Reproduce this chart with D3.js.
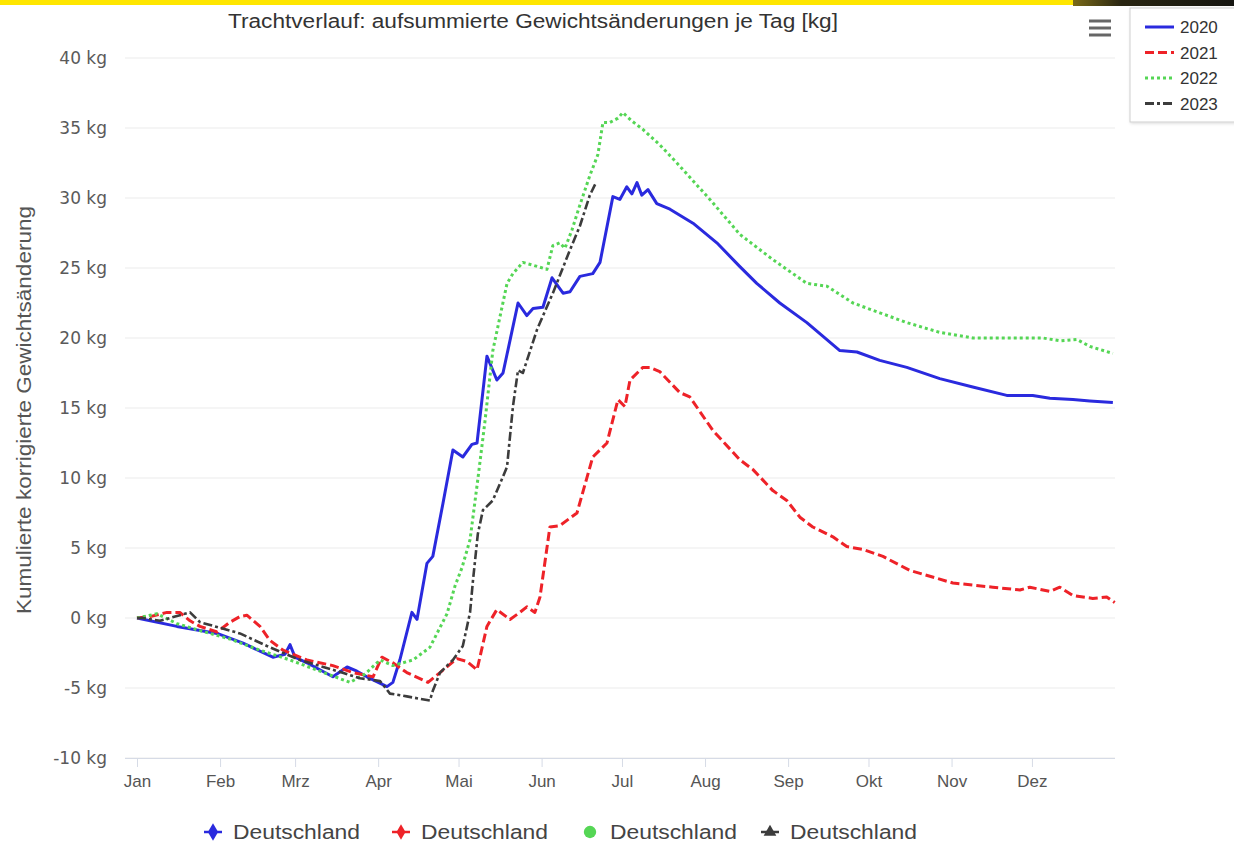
<!DOCTYPE html>
<html>
<head>
<meta charset="utf-8">
<script src="https://cdn.jsdelivr.net/npm/d3@7"></script>
<style>
  html, body { margin: 0; padding: 0; background: #ffffff; }
  svg { display: block; }
  text { font-family: "Liberation Sans", Arial, sans-serif; }
</style>
</head>
<body>
<svg id="chart" width="1234" height="844"></svg>
<script>
// ---------- data ----------
const chartTitle = "Trachtverlauf: aufsummierte Gewichtsänderungen je Tag [kg]";
const yAxisTitle = "Kumulierte korrigierte Gewichtsänderung";
const monthLabels = ["Jan","Feb","Mrz","Apr","Mai","Jun","Jul","Aug","Sep","Okt","Nov","Dez"];
const monthStartDays = [0,31,59,90,120,151,181,212,243,273,304,334];
const yTickValues = [-10,-5,0,5,10,15,20,25,30,35,40];
const seriesYears = ["2020","2021","2022","2023"];
const seriesRegion = ["Deutschland","Deutschland","Deutschland","Deutschland"];

const days2020 = [0,14.9,23.5,29.9,39.6,50.7,55.2,57.1,59,63.4,73.1,78.4,82.1,85.8,93.3,95.5,98.1,102.6,104.5,108.2,110.4,114.2,117.9,121.6,125,126.9,130.6,134.3,136.6,142.2,145.5,147.8,151.5,154.9,159,161.6,165.3,170.1,172.8,177.6,180.2,182.8,184.7,186.6,188.4,190.7,194,198.9,207.5,216.4,225,231.3,239.9,250,262.3,268.7,277.2,287.3,299.6,311.9,324.6,334.3,340.7,349.3,355.6,364.2];
const kg2020 = [0,-0.6,-0.9,-1.1,-1.8,-2.8,-2.6,-1.9,-2.8,-3.2,-4.2,-3.5,-3.8,-4.2,-4.9,-4.6,-3,0.4,-0.1,3.9,4.4,8.2,12,11.5,12.4,12.5,18.7,17,17.5,22.5,21.6,22.1,22.2,24.3,23.2,23.3,24.4,24.6,25.4,30.1,29.9,30.8,30.3,31.1,30.2,30.6,29.6,29.2,28.2,26.8,25.1,23.9,22.5,21.1,19.1,19,18.4,17.9,17.1,16.5,15.9,15.9,15.7,15.6,15.5,15.4];

const days2021 = [0,4.9,11.2,16,19.8,23.5,29.9,34.7,38.4,41,45.9,49.6,54.5,63.4,73.1,80.6,88.1,91.4,95.5,100.7,108.6,113.1,119.4,123.1,126.9,130.6,134.3,139.2,142.9,145.5,148.5,150.4,154.1,157.8,164.2,170.1,175.4,179.5,182.1,184,188.8,191.4,195.1,202.6,206.3,214.9,225,229.9,237.3,242.5,247.4,252.2,259.7,264.9,270.9,278.4,288.4,304.5,319.4,329.5,333.2,340.7,344.4,349.3,356.7,361.9,364.9];
const kg2021 = [0,0.1,0.4,0.4,-0.2,-0.6,-1,-0.3,0.1,0.2,-0.6,-1.6,-2.3,-3,-3.4,-3.9,-4.2,-2.8,-3.2,-3.9,-4.6,-3.9,-2.9,-3.1,-3.7,-0.6,0.6,-0.1,0.4,0.8,0.4,1.5,6.5,6.6,7.5,11.5,12.5,15.6,15.1,17,17.9,17.9,17.6,16.1,15.8,13.4,11.3,10.6,9.1,8.4,7.2,6.5,5.8,5.1,4.9,4.4,3.4,2.5,2.2,2,2.2,1.9,2.2,1.6,1.4,1.5,1.1];

const days2022 = [0,7.5,14.9,23.5,34.7,45.9,57.1,68.3,79.5,85.1,90.7,95.5,103,109.3,115.7,118.7,121.3,124.3,127.2,129.9,132.8,138.1,140.3,144,147.8,153,155.2,157.8,159.7,162.3,165.3,169,172,173.9,176.5,179.5,181.3,184.7,188.8,195.1,201.5,213.8,225,237.3,250,257.5,267.2,277.2,287.3,299.6,311.9,324.6,338.1,344.4,350.7,355.6,364.2];
const kg2022 = [0,0.3,-0.4,-0.9,-1.5,-2.3,-3,-3.8,-4.6,-4,-3,-3.4,-3,-2.1,0.3,2.3,3.6,5.6,9.9,14.1,19.1,23.9,24.6,25.4,25.2,24.9,26.6,26.8,26.4,27.7,29.5,31.6,33.1,35.4,35.4,35.7,36.1,35.5,34.9,33.8,32.5,29.9,27.4,25.6,23.9,23.7,22.5,21.8,21.1,20.4,20,20,20,19.8,19.9,19.4,18.9];

const days2023 = [0,2.2,8.6,16,19.8,23.5,29.1,38.4,48.5,60.8,73.1,83.2,90.7,94.4,100.7,109.3,110.4,113.1,117.9,121.6,124.3,125.4,127.2,129.1,132.8,136.6,138.1,140.3,142.2,144,149.3,155.2,161.6,165.3,169,171.3];
const kg2023 = [0,0,-0.2,0.2,0.4,-0.3,-0.6,-1.1,-2,-3,-3.7,-4.3,-4.5,-5.4,-5.6,-5.9,-5.2,-3.9,-3,-2,0.4,2.7,6,7.7,8.4,10.1,10.8,15.1,17.7,17.5,20.6,23.2,26.3,28,30.2,31.1];

const seriesDays = [days2020, days2021, days2022, days2023];
const seriesKg = [kg2020, kg2021, kg2022, kg2023];

// ---------- styles ----------
const colors = ["#2a2ade", "#ee2228", "#55d655", "#3c3c3c"];
const dashes = [null, "9,4", "3,3", "9,3,3,3"];
const widths = [3, 3, 3, 2.6];

const svg = d3.select("#chart");

// top strip (photo edge)
const defs = svg.append("defs");
const grad = defs.append("linearGradient").attr("id", "dark").attr("x1", 0).attr("x2", 1);
grad.append("stop").attr("offset", "0").attr("stop-color", "#7a6a18");
grad.append("stop").attr("offset", "0.3").attr("stop-color", "#2a2612");
grad.append("stop").attr("offset", "1").attr("stop-color", "#151510");
const shadow = defs.append("filter").attr("id", "shadow").attr("x", "-10%").attr("y", "-10%").attr("width", "130%").attr("height", "130%");
shadow.append("feDropShadow").attr("dx", 1).attr("dy", 1).attr("stdDeviation", 1.5).attr("flood-color", "#000").attr("flood-opacity", 0.15);

svg.append("rect").attr("x", 0).attr("y", 0).attr("width", 1073).attr("height", 5).attr("fill", "#ffe600");
svg.append("rect").attr("x", 1073).attr("y", 0).attr("width", 161).attr("height", 6).attr("fill", "url(#dark)");

// scales
const x = d3.scaleLinear().domain([0, 365]).range([137, 1115]);
const y = d3.scaleLinear().domain([-10, 40]).range([758, 58]);

// grid
svg.append("g").selectAll("line").data(yTickValues).join("line")
  .attr("x1", 125).attr("x2", 1115)
  .attr("y1", d => y(d)).attr("y2", d => y(d))
  .attr("stroke", "#ececec").attr("stroke-width", 1.2);

// y labels
svg.append("g").selectAll("text").data(yTickValues).join("text")
  .attr("x", 107).attr("y", d => y(d) + 6)
  .attr("text-anchor", "end")
  .style("font-family", "'DejaVu Sans', sans-serif")
  .style("font-size", "17px").attr("fill", "#5a5a5a")
  .text(d => d + " kg");

// y axis title
svg.append("text")
  .attr("transform", "translate(31,410) rotate(-90)")
  .attr("text-anchor", "middle")
  .style("font-size", "20px").attr("fill", "#555")
  .attr("textLength", 408).attr("lengthAdjust", "spacingAndGlyphs")
  .text(yAxisTitle);

// x axis
const xAxis = d3.axisBottom(x)
  .tickValues(monthStartDays)
  .tickFormat((d, i) => monthLabels[i])
  .tickSize(9).tickPadding(8);
const gx = svg.append("g").attr("transform", "translate(0,758)").call(xAxis);
gx.select(".domain").attr("stroke", "#d6dbe6").attr("d", "M125,0.5H1115");
gx.selectAll(".tick line").attr("stroke", "#d6dbe6");
gx.selectAll(".tick text").style("font-family", "'Liberation Sans', Arial, sans-serif")
  .style("font-size", "17px").attr("fill", "#555");

// title
svg.append("text").attr("x", 533).attr("y", 28).attr("text-anchor", "middle")
  .style("font-size", "20px").attr("fill", "#333")
  .attr("textLength", 610).attr("lengthAdjust", "spacingAndGlyphs")
  .text(chartTitle);

// lines
const line = d3.line().x(d => x(d[0])).y(d => y(d[1])).curve(d3.curveLinear);
const lines = svg.append("g");
seriesYears.forEach((yr, i) => {
  const pts = seriesDays[i].map((d, j) => [d, seriesKg[i][j]]);
  lines.append("path").datum(pts)
    .attr("d", line)
    .attr("fill", "none")
    .attr("stroke", colors[i])
    .attr("stroke-width", widths[i])
    .attr("stroke-linejoin", "round")
    .attr("stroke-dasharray", dashes[i]);
});

// hamburger menu
svg.append("g").selectAll("line").data([0,1,2]).join("line")
  .attr("x1", 1089).attr("x2", 1111)
  .attr("y1", d => 21 + d * 7).attr("y2", d => 21 + d * 7)
  .attr("stroke", "#666").attr("stroke-width", 3);

// top-right legend
const lg = svg.append("g");
lg.append("rect").attr("x", 1130).attr("y", 8).attr("width", 110).attr("height", 114)
  .attr("fill", "#fff").attr("stroke", "#cfcfcf").attr("filter", "url(#shadow)");
seriesYears.forEach((yr, i) => {
  const cy = 27 + i * 25.5;
  lg.append("line").attr("x1", 1145).attr("x2", 1174).attr("y1", cy).attr("y2", cy)
    .attr("stroke", colors[i]).attr("stroke-width", 3).attr("stroke-dasharray", dashes[i]);
  lg.append("text").attr("x", 1180).attr("y", cy + 6)
    .style("font-size", "17px").attr("fill", "#333").text(yr);
});

// bottom legend
const bl = svg.append("g");
const legendX = [213, 401, 590, 770];
const markers = [d3.symbolDiamond, d3.symbolDiamond, d3.symbolCircle, d3.symbolTriangle];
const markerSize = [90, 70, 120, 70];
seriesRegion.forEach((name, i) => {
  const cx = legendX[i], cy = 832;
  if (i !== 2) {
    bl.append("line").attr("x1", cx - 9).attr("x2", cx + 9).attr("y1", cy).attr("y2", cy)
      .attr("stroke", colors[i]).attr("stroke-width", 2.5);
  }
  bl.append("path").attr("d", d3.symbol().type(markers[i]).size(markerSize[i])())
    .attr("transform", `translate(${cx},${cy})`).attr("fill", colors[i]);
  bl.append("text").attr("x", cx + 20).attr("y", cy + 7)
    .style("font-size", "20px").attr("fill", "#444")
    .attr("textLength", 127).attr("lengthAdjust", "spacingAndGlyphs")
    .text(name);
});
</script>
</body>
</html>
